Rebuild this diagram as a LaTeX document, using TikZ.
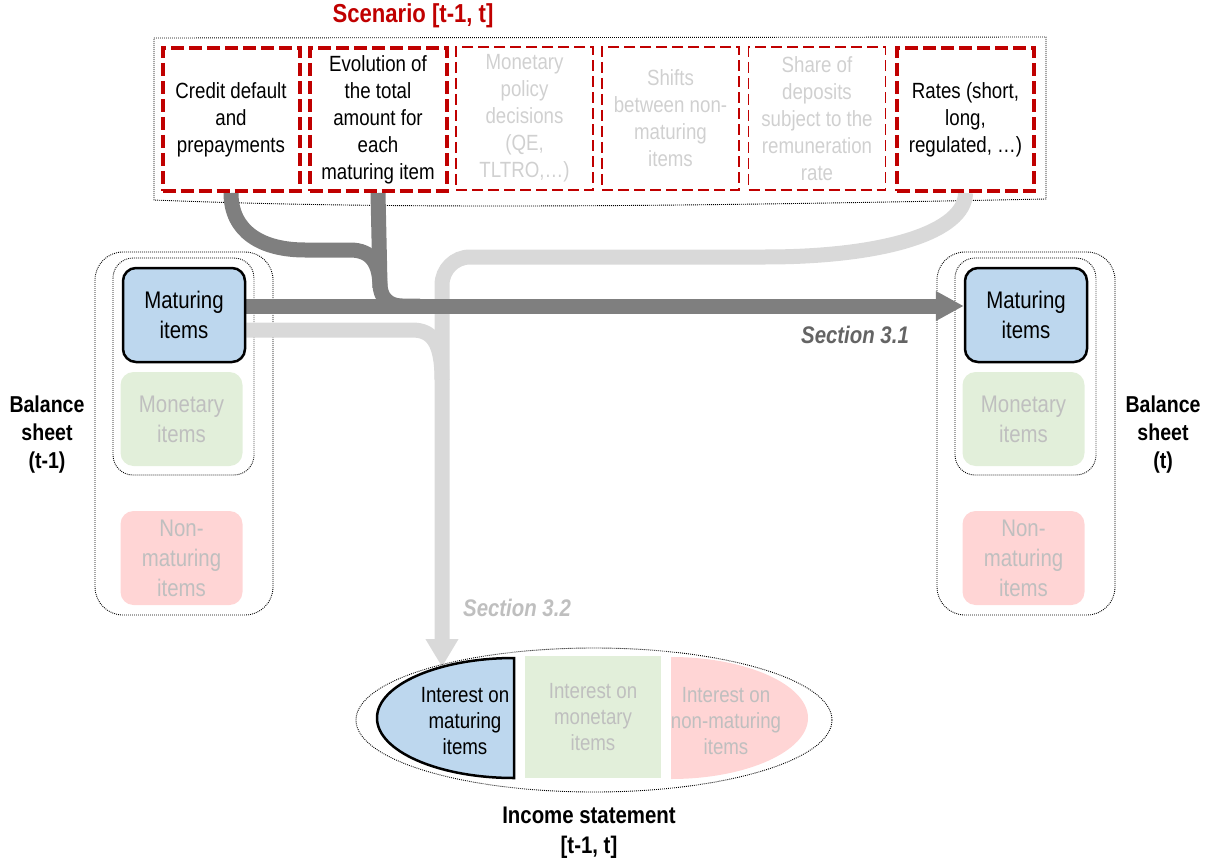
\documentclass[tikz,border=0pt]{standalone}
\usepackage{fontspec}
\setmainfont{Liberation Sans}[FakeStretch=0.85]
\usetikzlibrary{arrows.meta,calc}
\definecolor{scenred}{HTML}{C00000}
\definecolor{matblue}{HTML}{BDD7EE}
\definecolor{mongreen}{HTML}{E2EFDA}
\definecolor{nonpink}{HTML}{FFD5D5}
\definecolor{darkflowc}{HTML}{7F7F7F}
\definecolor{lightflowc}{HTML}{D9D9D9}
\definecolor{fadedtext}{HTML}{D0D0D0}
\definecolor{mutedtext}{HTML}{BFBFBF}
\definecolor{sectiondark}{HTML}{646464}
\pgfdeclarelayer{back}
\pgfsetlayers{back,main}

\begin{document}
\begin{tikzpicture}[x=1pt,y=-1pt,
  dotline/.style={line width=0.9pt, dash pattern=on 0.9pt off 1.1pt},
  scenbox/.style={rectangle, minimum width=137pt, minimum height=143pt, inner sep=0pt,
    align=center, font=\fontsize{22}{27}\selectfont},
  scenon/.style={scenbox, draw=scenred, line width=4pt, dash pattern=on 13pt off 5pt},
  scenoff/.style={scenbox, draw=scenred, line width=1.3pt, dash pattern=on 11pt off 5pt, text=fadedtext},
  itembox/.style={rectangle, rounded corners=13pt, minimum width=122pt, minimum height=94pt,
    inner sep=0pt, align=center, font=\fontsize{24}{30}\selectfont},
  matitem/.style={itembox, fill=matblue, draw=black, line width=2.5pt},
  monitem/.style={itembox, fill=mongreen, text=mutedtext},
  nonitem/.style={itembox, fill=nonpink, text=mutedtext},
  sheetlabel/.style={align=center, font=\fontsize{23}{28}\selectfont\bfseries},
  flowdark/.style={draw=darkflowc, line width=15pt},
  flowlight/.style={draw=lightflowc, line width=15pt},
  seclabel/.style={font=\fontsize{24}{28}\selectfont\bfseries\itshape},
  inctext/.style={align=center, font=\fontsize{22}{26}\selectfont}]

\useasboundingbox (0,0) rectangle (1209,861);

% --- scenario drivers ---
\node[font=\fontsize{26}{30}\selectfont\bfseries, text=scenred] (scentitle) at (413,16) {Scenario [t-1, t]};
\node[scenon]  (credit) at (231,119.5) {Credit default\\and\\prepayments};
\node[scenon]  (evol)   at (378,119.5) {Evolution of\\the total\\amount for\\each\\maturing item};
\node[scenoff] (monpol) at (524.5,118.5) {Monetary\\policy\\decisions\\(QE,\\TLTRO,…)};
\node[scenoff] (shifts) at (670.5,118.5) {Shifts\\between non-\\maturing\\items};
\node[scenoff] (share)  at (817,118.5) {Share of\\deposits\\subject to the\\remuneration\\rate};
\node[scenon]  (rates)  at (965.5,119.5) {Rates (short,\\long,\\regulated, …)};

% --- balance sheet at t-1 ---
\node[matitem] (matL) at (184,315) {Maturing\\items};
\node[monitem] (monL) at (181.5,419) {Monetary\\items};
\node[nonitem] (nonL) at (181.5,558) {Non-\\maturing\\items};
\node[sheetlabel] (bsL) at (47,435) {Balance\\sheet\\(t-1)};

% --- balance sheet at t ---
\node[matitem] (matR) at (1026,315) {Maturing\\items};
\node[monitem] (monR) at (1023.5,419) {Monetary\\items};
\node[nonitem] (nonR) at (1023.5,558) {Non-\\maturing\\items};
\node[sheetlabel] (bsR) at (1163,435) {Balance\\sheet\\(t)};

% --- income statement ---
\draw[dotline] (594,720) ellipse [x radius=238pt, y radius=72pt];
\filldraw[fill=matblue, draw=black, line width=2.5pt]
  (514,658) .. controls (438.3,658) and (377,684.9) .. (377,718)
  .. controls (377,751.1) and (438.3,778) .. (514,778) -- cycle;
\node[inctext] (intmat) at (465,721) {Interest on\\maturing\\items};
\node[fill=mongreen, minimum width=136pt, minimum height=122pt, inner sep=0pt,
  inctext, text=mutedtext] (intmon) at (593,717) {Interest on\\monetary\\items};
\fill[nonpink] (671,657) .. controls (746.7,657) and (808,684.9) .. (808,718)
  .. controls (808,751.1) and (746.7,779) .. (671,779) -- cycle;
\node[inctext, text=mutedtext] (intnon) at (726,721) {Interest on\\non-maturing\\items};
\node[font=\fontsize{24}{30}\selectfont\bfseries, align=center] (inclabel) at (589,833)
  {Income statement\\{[t-1, t]}};

% --- section labels ---
\node[seclabel, text=sectiondark] (sec31) at (855,335) {Section 3.1};
\node[seclabel, text=mutedtext] (sec32) at (517,608) {Section 3.2};

% --- junction points of the flows ---
\coordinate (inttop) at (442,667);
\coordinate (lightjoin) at (442,380);
\coordinate (darkjoin) at (380,288);
\coordinate (darkmerge) at (420,306);

\begin{pgfonlayer}{back}
  % containers
  \draw[dotline] (154,38) -- (1046,37) -- (1046,199)
    .. controls (700,206) and (400,210) .. (154,200) -- cycle;
  \draw[dotline, rounded corners=28pt] (95,252) rectangle (273,615);
  \draw[dotline, rounded corners=20pt] (113,258) rectangle (254,475);
  \draw[dotline, rounded corners=28pt] (937,252) rectangle (1115,615);
  \draw[dotline, rounded corners=20pt] (955,258) rectangle (1096,475);

  % flows towards the income statement
  \draw[flowlight, -{Triangle[length=28pt,width=31pt]}]
    (rates.south) .. controls (965,232) and (885,257) .. (765,257) -- (470,257)
    .. controls (454.5,257) and (442,269.5) .. (442,285) -- (inttop);
  \draw[flowlight] ([yshift=-15pt]matL.east) -- (412,330)
    .. controls (432,330) and (442,342) .. (lightjoin);

  % flows towards the balance sheet
  \draw[flowdark] (credit.south) .. controls (231,232) and (262,250) .. (305,250) -- (350,250)
    .. controls (372,250) and (380,264) .. (darkjoin);
  \draw[flowdark] (evol.south) -- (380,284) .. controls (380,297) and (388,306) .. (402,306)
    -- (darkmerge);
  \draw[flowdark, -{Triangle[length=28pt,width=28pt]}]
    ([yshift=9pt]matL.east) -- ([yshift=9pt]matR.west);
\end{pgfonlayer}
\end{tikzpicture}
\end{document}
